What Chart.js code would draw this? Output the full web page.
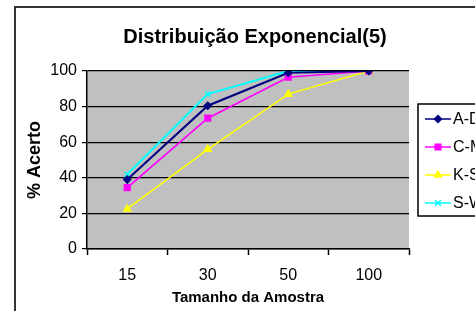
<!DOCTYPE html>
<html>
<head>
<meta charset="utf-8">
<script src="https://cdn.jsdelivr.net/npm/chart.js@4/dist/chart.umd.min.js"></script>
<style>
  body { margin: 0; background: #fff; }
  canvas { display: block; }
</style>
</head>
<body>
<canvas id="grafico" width="475" height="311"></canvas>
<script>
const titulo = "Distribuição Exponencial(5)";
const tituloX = "Tamanho da Amostra";
const tituloY = "% Acerto";
const categorias = ["15", "30", "50", "100"];
const nomesSeries = ["A-D", "C-M", "K-S", "S-W"];
const serieAD = [39, 80.5, 99, 100];
const serieCM = [34.5, 73.5, 96.5, 100];
const serieKS = [22.5, 56, 87, 100];
const serieSW = [42, 87, 100, 100];

const fonte = "'Liberation Sans', Arial, sans-serif";

// moldura, fundo cinza e titulo
const fundo = {
    id: "fundo",
    beforeDraw(chart) {
        const ctx = chart.ctx;
        const a = chart.chartArea;
        ctx.save();
        ctx.fillStyle = "#fff";
        ctx.fillRect(0, 0, chart.width, chart.height);
        ctx.strokeStyle = "#333";
        ctx.lineWidth = 2;
        ctx.strokeRect(15, 7, 480, 320);
        ctx.fillStyle = "#c0c0c0";
        ctx.fillRect(a.left, a.top, a.right - a.left, a.bottom - a.top);
        ctx.fillStyle = "#000";
        ctx.font = "bold 20px " + fonte;
        ctx.textAlign = "center";
        ctx.textBaseline = "middle";
        ctx.fillText(titulo, 255, 37);
        ctx.restore();
    }
};

// legenda com caixa, como no Excel
const legenda = {
    id: "legenda",
    afterDraw(chart) {
        const ctx = chart.ctx;
        ctx.save();
        ctx.fillStyle = "#fff";
        ctx.fillRect(418, 104, 70, 112);
        ctx.strokeStyle = "#000";
        ctx.lineWidth = 1.5;
        ctx.strokeRect(418, 104, 70, 112);
        chart.data.datasets.forEach(function(ds, i) {
            const y = 119 + i * 28;
            ctx.strokeStyle = ds.borderColor;
            ctx.lineWidth = 1.5;
            ctx.beginPath();
            ctx.moveTo(425, y);
            ctx.lineTo(451, y);
            ctx.stroke();
            ctx.fillStyle = ds.pointBackgroundColor;
            ctx.strokeStyle = ds.borderColor;
            Chart.helpers.drawPoint(ctx, {
                pointStyle: ds.pointStyle,
                radius: ds.pointRadius,
                rotation: 0,
                borderWidth: 1.5
            }, 438, y);
            ctx.fillStyle = "#000";
            ctx.font = "16px " + fonte;
            ctx.textAlign = "left";
            ctx.textBaseline = "middle";
            ctx.fillText(ds.label, 453, y + 1);
        });
        ctx.restore();
    }
};

function serie(nome, valores, cor, estilo, raio, largura) {
    return {
        label: nome,
        data: valores,
        borderColor: cor,
        backgroundColor: cor,
        pointBackgroundColor: cor,
        pointBorderColor: cor,
        pointStyle: estilo,
        pointRadius: raio,
        pointBorderWidth: 1.5,
        borderWidth: largura,
        tension: 0
    };
}

new Chart(document.getElementById("grafico").getContext("2d"), {
    type: "line",
    data: {
        labels: categorias,
        datasets: [
            serie(nomesSeries[0], serieAD, "#000080", "rectRot", 3.5, 2),
            serie(nomesSeries[1], serieCM, "#ff00ff", "rect", 4, 1.7),
            serie(nomesSeries[2], serieKS, "#ffff00", "triangle", 4, 1.5),
            serie(nomesSeries[3], serieSW, "#00ffff", "crossRot", 4, 2)
        ]
    },
    options: {
        responsive: false,
        animation: false,
        layout: { padding: { left: 0, top: 71, right: 66, bottom: 0 } },
        plugins: {
            legend: { display: false },
            tooltip: { enabled: false }
        },
        scales: {
            x: {
                offset: true,
                grid: {
                    offset: true,
                    drawOnChartArea: false,
                    drawTicks: true,
                    tickLength: 6,
                    tickColor: "#000",
                    tickWidth: 1.5
                },
                border: { color: "#000", width: 1.5 },
                ticks: { color: "#000", font: { family: fonte, size: 16 }, padding: 11 },
                title: {
                    display: true,
                    text: tituloX,
                    color: "#000",
                    font: { family: fonte, size: 15, weight: "bold" },
                    padding: { top: 0, bottom: 4 }
                },
                afterFit(scale) { scale.height = 62; }
            },
            y: {
                min: 0,
                max: 100,
                ticks: { stepSize: 20, color: "#000", font: { family: fonte, size: 16 }, padding: 5 },
                grid: { color: "#000", lineWidth: 1.2, tickLength: 5, tickColor: "#000" },
                border: { color: "#000", width: 1.5 },
                title: {
                    display: true,
                    text: tituloY,
                    color: "#000",
                    font: { family: fonte, size: 18, weight: "bold" },
                    padding: { top: 24.2, bottom: 0 }
                },
                afterFit(scale) { scale.width = 87; }
            }
        }
    },
    plugins: [fundo, legenda]
});
</script>
</body>
</html>
